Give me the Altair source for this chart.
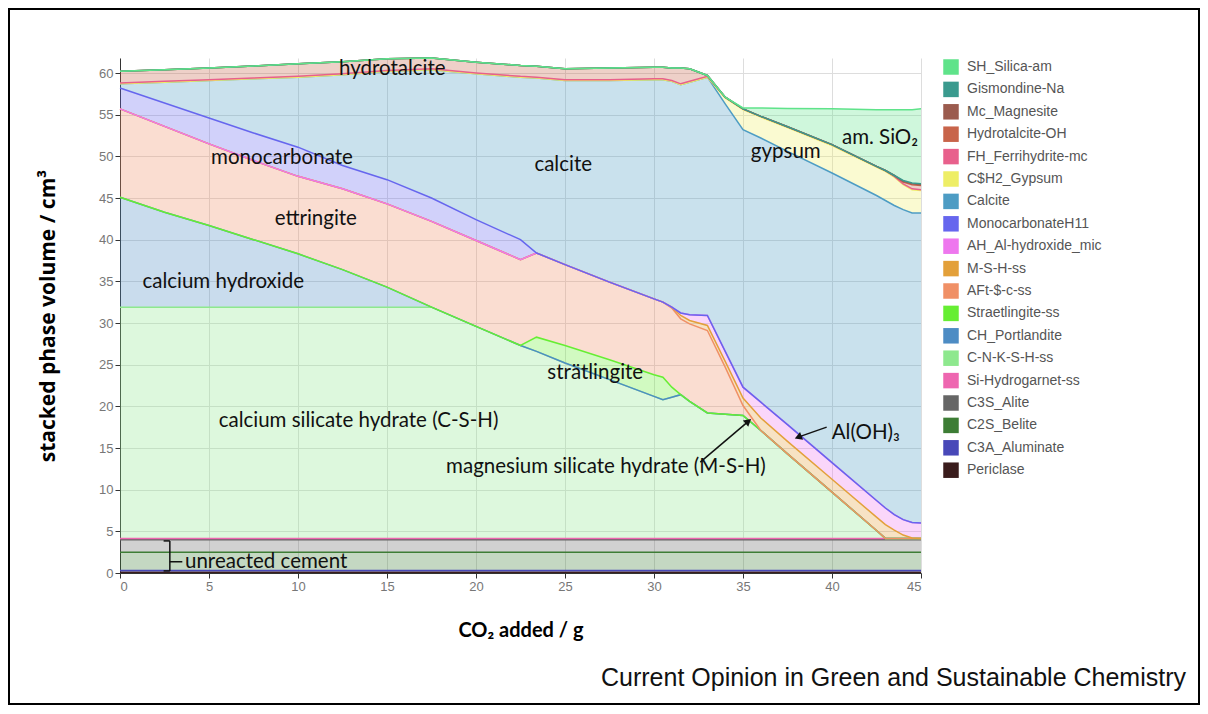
import altair as alt
import pandas as pd

# CO2 added (g)
X = [0, 2.5, 5, 7.5, 10, 12.5, 15, 17.5, 20, 22.5, 23.4, 25, 27.5, 30, 30.5,
     31, 31.5, 32, 33, 34, 35, 36, 37.5, 40, 42.5, 43, 43.5, 44, 44.5, 45]

# phase volumes (cm3), stacking order bottom -> top
PERICLASE = [0.1] * 30
C3A = [0.2] * 30
C2S = [2.2] * 30
C3S = [1.5] * 30
SI_HYDROGARNET = [0.15] * 30
CSH = [27.75, 27.75, 27.75, 27.75, 27.75, 27.75, 27.75, 27.75, 25.45, 23.15, 22.45, 21.05, 19.05, 17.05, 16.65,
       16.95, 17.25, 16.45, 15.05, 14.9, 14.75, 12.95, 10.15, 5.55, 0.95, 0, 0, 0, 0, 0]
CH = [13.2, 11.4, 9.8, 8.1, 6.4, 4.5, 2.4, 0, 0, 0, 0, 0, 0, 0, 0,
      0, 0, 0, 0, 0, 0, 0, 0, 0, 0, 0, 0, 0, 0, 0]
STRAET = [0, 0, 0, 0, 0, 0, 0, 0, 0, 0, 1.7, 2.1, 2.4, 2.6, 2.7,
          1.2, 0, 0, 0, 0, 0, 0, 0, 0, 0, 0, 0, 0, 0, 0]
AFT = [10.6, 10.3, 9.8, 9.5, 9.3, 9.7, 10.0, 10.3, 10.3, 10.3, 10.1, 9.7, 9.3, 9.1, 9.0,
       9.5, 9.1, 9.3, 9.9, 5.65, 1.2, 0, 0, 0, 0, 0, 0, 0, 0, 0]
MSH = [0, 0, 0, 0, 0, 0, 0, 0, 0, 0, 0, 0, 0, 0, 0,
       0.1, 0.4, 0.4, 0.6, 0.7, 0.9, 1.5, 1.5, 1.55, 1.6, 1.65, 1.0, 0.4, 0.05, 0]
AH = [0, 0, 0, 0, 0, 0, 0, 0, 0, 0, 0, 0, 0, 0, 0,
      0, 0.3, 0.7, 1.2, 1.2, 1.3, 1.9, 2.0, 2.0, 2.0, 2.0, 1.85, 1.85, 1.85, 1.85]
MONO = [2.5, 2.8, 3.1, 3.3, 3.5, 2.8, 2.9, 2.8, 2.5, 2.4, 0, 0, 0, 0, 0,
        0, 0, 0, 0, 0, 0, 0, 0, 0, 0, 0, 0, 0, 0, 0]
CALCITE = [0.5, 2.5, 4.5, 6.5, 8.4, 10.9, 13.0, 15.4, 17.5, 19.5, 21.0, 22.1, 24.2, 26.3, 26.7,
           27.1, 27.4, 27.9, 28.6, 29.7, 30.9, 31.7, 32.8, 34.75, 36.6, 36.9, 37.1, 37.2, 37.15, 37.2]
GYPSUM = [0, 0, 0, 0, 0, 0, 0, 0, 0, 0, 0, 0, 0, 0, 0,
          0, 0, 0, 0, 0.7, 2.4, 2.5, 2.85, 3.3, 3.4, 3.5, 3.4, 3.0, 2.8, 2.7]
FH = [0.1] * 30
HYDROTALCITE = [1.4, 1.4, 1.4, 1.45, 1.5, 1.45, 1.4, 1.3, 1.3, 1.3, 1.3, 1.3, 1.4, 1.4, 1.4,
                1.5, 1.9, 1.5, 0.1, 0, 0, 0, 0, 0, 0, 0, 0.1, 0.2, 0.5, 0.5]
MAGNESITE = [0] * 27 + [0.1, 0.1, 0.1]
GISMONDINE = [0] * 27 + [0.1, 0.1, 0.1]
SILICA = [0, 0, 0, 0, 0, 0, 0, 0, 0, 0, 0, 0, 0, 0, 0,
          0, 0, 0, 0, 0, 0.1, 1.0, 2.2, 4.3, 6.8, 7.3, 7.9, 8.5, 8.8, 9.0]

NAMES = ["Periclase", "C3A_Aluminate", "C2S_Belite", "C3S_Alite", "Si-Hydrogarnet-ss",
         "C-N-K-S-H-ss", "CH_Portlandite", "Straetlingite-ss", "AFt-$-c-ss", "M-S-H-ss",
         "AH_Al-hydroxide_mic", "MonocarbonateH11", "Calcite", "C$H2_Gypsum",
         "FH_Ferrihydrite-mc", "Hydrotalcite-OH", "Mc_Magnesite", "Gismondine-Na", "SH_Silica-am"]
VALUES = [PERICLASE, C3A, C2S, C3S, SI_HYDROGARNET, CSH, CH, STRAET, AFT, MSH, AH, MONO,
          CALCITE, GYPSUM, FH, HYDROTALCITE, MAGNESITE, GISMONDINE, SILICA]
COLORS = ["#3a1c1c", "#4848b8", "#3d7d35", "#666666", "#ee66b0",
          "#8ee88e", "#4d8cc4", "#66ee33", "#f09066", "#e3a03a",
          "#ee77ee", "#6666ee", "#4d9cc4", "#eeee66",
          "#e8608c", "#c8644a", "#9b5b4e", "#3a9a8e", "#5fe38a"]

rows = []
for i, x in enumerate(X):
    for k, name in enumerate(NAMES):
        rows.append({"co2": x, "phase": name, "vol": VALUES[k][i], "idx": k})
df = pd.DataFrame(rows)

legend_order = NAMES[::-1]
legend_colors = COLORS[::-1]

# annotation labels (data coordinates)
LABELS = ["hydrotalcite", "monocarbonate", "calcite", "ettringite", "calcium hydroxide",
          "strätlingite", "calcium silicate hydrate (C-S-H)", "magnesium silicate hydrate (M-S-H)",
          "Al(OH)₃", "gypsum", "am. SiO₂"]
LAB_X = [15.3, 9.1, 24.9, 11.0, 5.8, 26.7, 13.4, 27.3, 41.9, 37.4, 42.7]
LAB_Y = [60.5, 49.8, 49.0, 42.5, 34.9, 24.0, 18.2, 12.7, 16.8, 50.5, 52.2]

ARROW_X = [32.6, 39.7]
ARROW_Y = [13.3, 17.5]
ARROW_X2 = [35.3, 38.1]
ARROW_Y2 = [18.2, 16.3]
ARROW_ANGLE = [50, 249]

BR_X = [2.8, 2.45, 2.45, 2.8]
BR_Y = [0.25, 3.85, 0.25, 1.35]
BR_X2 = [2.8, 2.8, 2.8, 3.5]
BR_Y2 = [3.85, 3.85, 0.25, 1.35]

xscale = alt.Scale(domain=[0, 45], nice=False)
yscale = alt.Scale(domain=[0, 61.8], nice=False)

areas = alt.Chart(df).mark_area(
    fillOpacity=0.3, interpolate="linear", line={"strokeWidth": 1.5}
).encode(
    x=alt.X("co2:Q", scale=xscale,
            axis=alt.Axis(title="CO₂ added / g", values=list(range(0, 46, 5)),
                          titlePadding=27, titleFontSize=20, titleFont="Lato")),
    y=alt.Y("vol:Q", stack="zero", scale=yscale,
            axis=alt.Axis(title="stacked phase volume / cm³", values=list(range(0, 61, 5)),
                          titlePadding=40, titleFontSize=21, titleFont="Open Sans")),
    color=alt.Color("phase:N", scale=alt.Scale(domain=legend_order, range=legend_colors),
                    legend=alt.Legend(title=None, orient="none", legendX=823, legendY=1,
                                      symbolType="square", symbolSize=240, symbolOpacity=1,
                                      symbolStrokeWidth=0, rowPadding=6.4,
                                      labelFont="Liberation Sans", labelFontSize=14,
                                      labelColor="#555555", labelOffset=8)),
    order=alt.Order("idx:Q", sort="ascending"),
)

lab_df = pd.DataFrame({"t": LABELS, "x": LAB_X, "y": LAB_Y})
labels = alt.Chart(lab_df).mark_text(font="Lato", fontSize=20.5, color="#111111",
                                     align="center", baseline="middle").encode(
    x=alt.X("x:Q", scale=xscale), y=alt.Y("y:Q", scale=yscale), text="t:N")

arr_df = pd.DataFrame({"x": ARROW_X, "y": ARROW_Y, "x2": ARROW_X2, "y2": ARROW_Y2, "a": ARROW_ANGLE})
arrows = alt.Chart(arr_df).mark_rule(color="#111111", strokeWidth=1.5).encode(
    x=alt.X("x:Q", scale=xscale), y=alt.Y("y:Q", scale=yscale), x2="x2:Q", y2="y2:Q")
heads = alt.Chart(arr_df).mark_point(shape="triangle-up", filled=True, color="#111111",
                                     size=70, opacity=1).encode(
    x=alt.X("x2:Q", scale=xscale), y=alt.Y("y2:Q", scale=yscale), angle=alt.Angle("a:Q", scale=None))

br_df = pd.DataFrame({"x": BR_X, "y": BR_Y, "x2": BR_X2, "y2": BR_Y2})
bracket = alt.Chart(br_df).mark_rule(color="#111111", strokeWidth=1.5).encode(
    x=alt.X("x:Q", scale=xscale), y=alt.Y("y:Q", scale=yscale), x2="x2:Q", y2="y2:Q")
cement = alt.Chart(pd.DataFrame({"t": ["unreacted cement"], "x": [3.65], "y": [1.35]})).mark_text(
    font="Lato", fontSize=20.5, color="#111111", align="left", baseline="middle").encode(
    x=alt.X("x:Q", scale=xscale), y=alt.Y("y:Q", scale=yscale), text="t:N")

one = pd.DataFrame({"a": [0]})
frame = alt.Chart(one).mark_rect(fillOpacity=0, stroke="#000000", strokeWidth=2).encode(
    x=alt.value(-111), x2=alt.value(1079), y=alt.value(-49), y2=alt.value(646))
footer = alt.Chart(one).mark_text(text="Current Opinion in Green and Sustainable Chemistry",
                                  font="Liberation Sans", fontSize=25, color="#111111",
                                  align="right", baseline="middle").encode(
    x=alt.value(1066), y=alt.value(620))

chart = alt.layer(areas, labels, arrows, heads, bracket, cement, frame, footer).properties(
    width=801, height=515,
    padding={"left": 112, "top": 50, "right": 279, "bottom": 133},
    autosize=alt.AutoSizeParams(type="none"),
    background="white",
).configure_view(stroke=None).configure_axis(
    labelColor="#777777", labelFont="Liberation Sans", labelFontSize=13,
    tickColor="#333333", domainColor="#333333", tickSize=5,
    gridColor="#dddddd", titleFontWeight="bold",
    titleColor="#000000",
)

chart.save("out.html", embed_options={"renderer": "svg", "actions": False})
